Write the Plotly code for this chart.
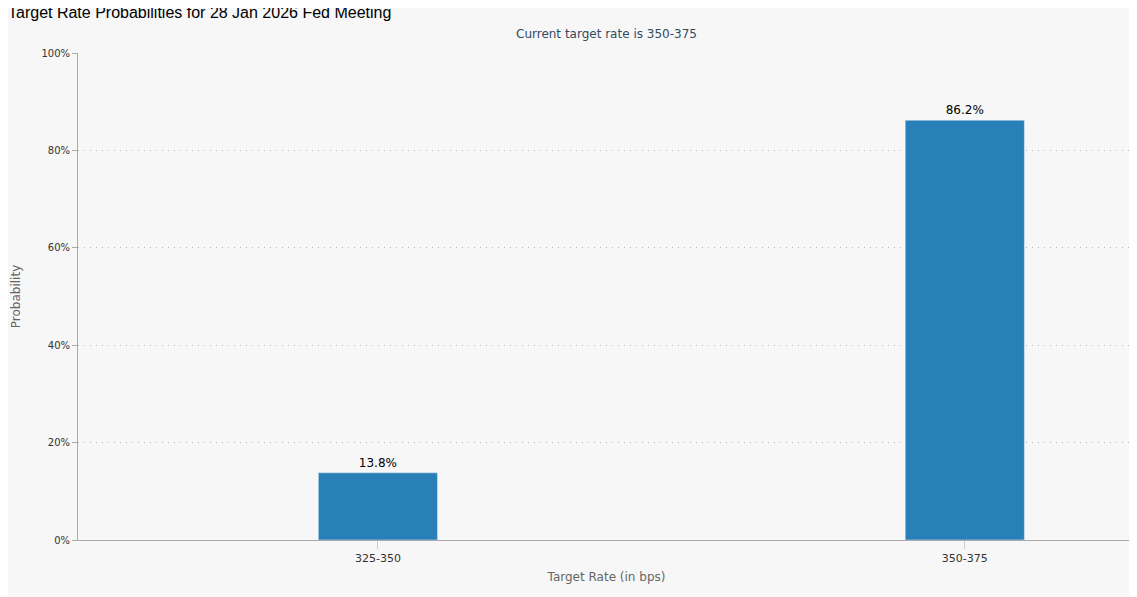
import plotly.graph_objects as go

categories = ["325-350", "350-375"]
probabilities = [13.8, 86.2]
labels = ["13.8%", "86.2%"]
y_ticks = [0, 20, 40, 60, 80, 100]
y_tick_labels = ["0%", "20%", "40%", "60%", "80%", "100%"]

fig = go.Figure(go.Bar(
    x=categories, y=probabilities, width=0.203,
    marker_color="#2980b9", text=labels, textposition="outside",
    textfont=dict(family="DejaVu Sans", size=12, color="#000"),
    cliponaxis=False,
))
fig.update_layout(
    width=1129, height=589,
    paper_bgcolor="#f7f7f7", plot_bgcolor="#f7f7f7",
    margin=dict(l=70, r=2, t=45, b=57),
    showlegend=False,
    title=dict(text="Target Rate Probabilities for 28 Jan 2026 Fed Meeting",
               x=0.0, xanchor="left", y=0.992, yanchor="middle",
               font=dict(family="Liberation Sans, Arial", size=16, color="#000")),
    annotations=[dict(text="Current target rate is 350-375", xref="paper", yref="paper",
                      x=0.5, y=1.04, yanchor="middle", showarrow=False,
                      font=dict(family="DejaVu Sans", size=12, color="#34495e"))],
    xaxis=dict(type="category", range=[-0.511, 1.29], showline=True, linecolor="#aaa",
               ticks="outside", tickcolor="#ccc", ticklen=8,
               tickfont=dict(family="DejaVu Sans", size=11, color="#333"),
               title=dict(text="Target Rate (in bps)", standoff=8,
                          font=dict(family="DejaVu Sans", size=12, color="#666"))),
    yaxis=dict(range=[0, 100], tickmode="array", tickvals=y_ticks, ticktext=y_tick_labels,
               showline=True, linecolor="#aaa", showgrid=True, gridcolor="#bbb",
               griddash="1px,5px", zeroline=False, ticks="outside", tickcolor="#aaa", ticklen=5,
               tickfont=dict(family="DejaVu Sans", size=10, color="#333"),
               title=dict(text="Probability", standoff=18,
                          font=dict(family="DejaVu Sans", size=12, color="#666"))),
)
fig.write_html("out.html")
